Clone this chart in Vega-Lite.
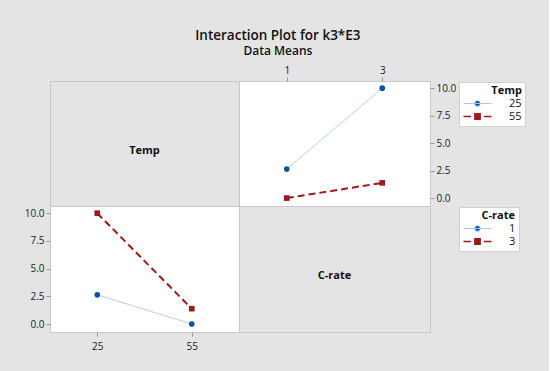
{
  "$schema": "https://vega.github.io/schema/vega-lite/v6.json",
  "background": "#e4e4e4",
  "padding": {"left": 23, "top": 28, "right": 23, "bottom": 22},
  "autosize": {"type": "pad"},
  "title": {
    "text": "Interaction Plot for k3*E3",
    "subtitle": "Data Means",
    "anchor": "middle",
    "dx": 3,
    "font": "Open Sans",
    "subtitleFont": "Open Sans",
    "fontSize": 13.5,
    "subtitleFontSize": 12,
    "fontWeight": 600,
    "subtitleFontWeight": 600,
    "color": "#111",
    "subtitleColor": "#111",
    "subtitlePadding": 4,
    "offset": 7.5
  },
  "datasets": {
    "means": [
      {"Temp": "25", "Crate": "1", "k3": 2.65},
      {"Temp": "25", "Crate": "3", "k3": 10.0},
      {"Temp": "55", "Crate": "1", "k3": 0.02},
      {"Temp": "55", "Crate": "3", "k3": 1.4}
    ]
  },
  "config": {
    "font": "Open Sans",
    "axis": {
      "labelFont": "Open Sans",
      "labelFontSize": 10,
      "labelColor": "#222",
      "tickColor": "#999",
      "tickSize": 4,
      "labelPadding": 2,
      "domain": false,
      "grid": false,
      "title": null
    },
    "legend": {
      "titleFont": "Open Sans",
      "labelFont": "Open Sans",
      "titleFontSize": 11,
      "labelFontSize": 11,
      "titleColor": "#111",
      "labelColor": "#111",
      "titleFontWeight": "bold",
      "titleAnchor": "end",
      "titlePadding": 2,
      "padding": 3,
      "rowPadding": 1,
      "fillColor": "white",
      "strokeColor": "#d0d0d0",
      "symbolSize": 64,
      "symbolOffset": 10,
      "labelOffset": 26
    }
  },
  "resolve": {
    "scale": {"fill": "independent", "stroke": "independent", "shape": "independent", "strokeDash": "independent", "strokeWidth": "independent"},
    "legend": {"fill": "independent", "stroke": "independent", "shape": "independent", "strokeDash": "independent", "strokeWidth": "independent"}
  },
  "columns": 2,
  "spacing": 0,
  "bounds": "flush",
  "concat": [
    {
      "width": 189,
      "height": 125,
      "view": {"fill": "#e4e4e4", "stroke": "#c8c8c8"},
      "data": {"values": [{"name": "Temp"}]},
      "mark": {"type": "text", "fontSize": 11, "fontWeight": "bold", "dy": 7, "color": "#111"},
      "encoding": {"text": {"field": "name"}}
    },
    {
      "width": 191,
      "height": 125,
      "view": {"fill": "white", "stroke": "#c8c8c8"},
      "data": {"name": "means"},
      "encoding": {
        "x": {"field": "Crate", "type": "ordinal", "scale": {"type": "point", "padding": 0.5}, "axis": {"orient": "top", "labelAngle": 0}},
        "y": {"field": "k3", "type": "quantitative", "scale": {"domain": [-0.7, 10.65], "nice": false, "zero": false}, "axis": {"orient": "right", "values": [0, 2.5, 5, 7.5, 10], "format": ".1f"}}
      },
      "layer": [
        {
          "mark": {"type": "line"},
          "encoding": {
            "stroke": {"field": "Temp", "type": "nominal", "scale": {"range": ["#a9c9ea", "#a01818"]}, "legend": null},
            "strokeDash": {"field": "Temp", "type": "nominal", "scale": {"range": [[1, 0], [7, 4]]}, "legend": null},
            "strokeWidth": {"field": "Temp", "type": "ordinal", "scale": {"range": [1, 2]}, "legend": null}
          }
        },
        {
          "mark": {"type": "point", "filled": true, "opacity": 1, "size": 32},
          "encoding": {
            "fill": {"field": "Temp", "type": "nominal", "scale": {"domain": ["25", "55"], "range": ["#0054a6", "#a01818"]},
              "legend": {
                "title": "Temp",
                "orient": "none",
                "legendX": 220,
                "legendY": 1,
                "symbolType": {"expr": "datum.value === '25' ? 'M-3.5,0H3.5M0.7,0A0.7,0.7,0,1,1,-0.7,0A0.7,0.7,0,1,1,0.7,0Z' : 'M-3.5,0H-1.6M1.6,0H3.5M-0.65,-0.65H0.65V0.65H-0.65Z'"},
                "symbolStrokeColor": {"expr": "datum.value === '25' ? '#a9c9ea' : '#a01818'"},
                "symbolStrokeWidth": {"expr": "datum.value === '25' ? 1 : 1.6"}
              }
            },
            "shape": {"field": "Temp", "type": "nominal", "scale": {"range": ["circle", "square"]}, "legend": null}
          }
        }
      ]
    },
    {
      "width": 189,
      "height": 126,
      "view": {"fill": "white", "stroke": "#c8c8c8"},
      "data": {"name": "means"},
      "encoding": {
        "x": {"field": "Temp", "type": "ordinal", "scale": {"type": "point", "padding": 0.5}, "axis": {"orient": "bottom", "labelAngle": 0, "labelPadding": 5}},
        "y": {"field": "k3", "type": "quantitative", "scale": {"domain": [-0.7, 10.65], "nice": false, "zero": false}, "axis": {"orient": "left", "values": [0, 2.5, 5, 7.5, 10], "format": ".1f"}}
      },
      "layer": [
        {
          "mark": {"type": "line"},
          "encoding": {
            "stroke": {"field": "Crate", "type": "nominal", "scale": {"range": ["#a9c9ea", "#a01818"]}, "legend": null},
            "strokeDash": {"field": "Crate", "type": "nominal", "scale": {"range": [[1, 0], [7, 4]]}, "legend": null},
            "strokeWidth": {"field": "Crate", "type": "ordinal", "scale": {"range": [1, 2]}, "legend": null}
          }
        },
        {
          "mark": {"type": "point", "filled": true, "opacity": 1, "size": 32},
          "encoding": {
            "fill": {"field": "Crate", "type": "nominal", "scale": {"domain": ["1", "3"], "range": ["#0054a6", "#a01818"]},
              "legend": {
                "title": "C-rate",
                "orient": "none",
                "legendX": 409,
                "legendY": 1,
                "symbolType": {"expr": "datum.value === '1' ? 'M-3.5,0H3.5M0.7,0A0.7,0.7,0,1,1,-0.7,0A0.7,0.7,0,1,1,0.7,0Z' : 'M-3.5,0H-1.6M1.6,0H3.5M-0.65,-0.65H0.65V0.65H-0.65Z'"},
                "symbolStrokeColor": {"expr": "datum.value === '1' ? '#a9c9ea' : '#a01818'"},
                "symbolStrokeWidth": {"expr": "datum.value === '1' ? 1 : 1.6"}
              }
            },
            "shape": {"field": "Crate", "type": "nominal", "scale": {"range": ["circle", "square"]}, "legend": null}
          }
        }
      ]
    },
    {
      "width": 191,
      "height": 126,
      "view": {"fill": "#e4e4e4", "stroke": "#c8c8c8"},
      "data": {"values": [{"name": "C-rate"}]},
      "mark": {"type": "text", "fontSize": 11, "fontWeight": "bold", "dy": 7, "color": "#111"},
      "encoding": {"text": {"field": "name"}}
    }
  ]
}
